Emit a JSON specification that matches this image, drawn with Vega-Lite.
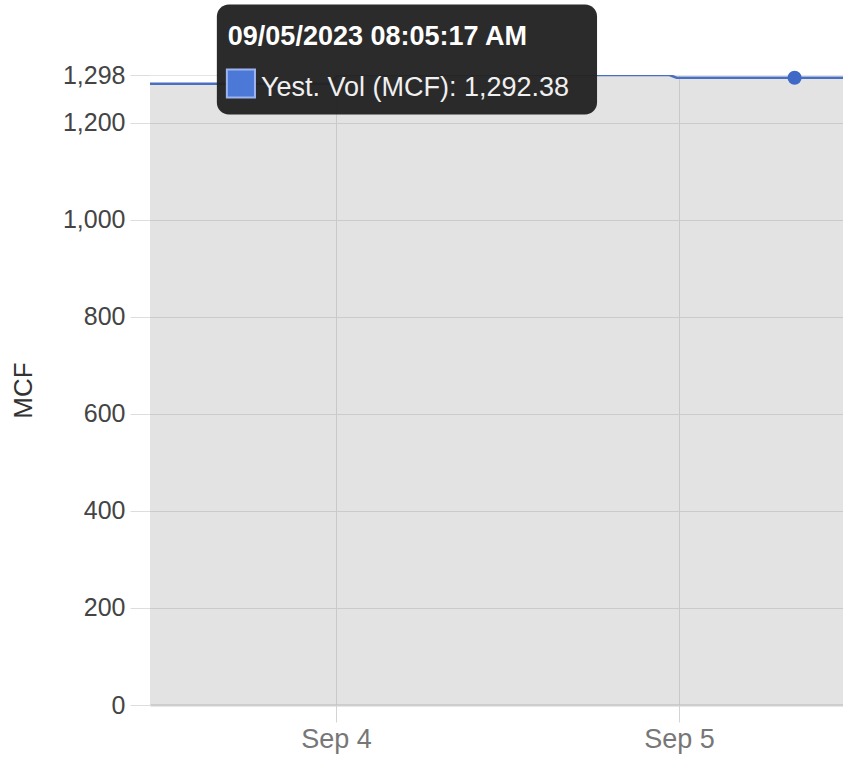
{
  "$schema": "https://vega.github.io/schema/vega-lite/v6.json",
  "width": 693,
  "height": 630,
  "autosize": {"type": "none"},
  "padding": {"left": 150, "top": 75, "right": 0, "bottom": 56},
  "background": "white",
  "config": {
    "view": {"stroke": null},
    "font": "Liberation Sans"
  },
  "datasets": {
    "series": [
      {"time": "2023-09-03T10:59:00", "value": 1280},
      {"time": "2023-09-03T23:30:00", "value": 1280},
      {"time": "2023-09-04T00:10:00", "value": 1298},
      {"time": "2023-09-04T23:20:00", "value": 1298},
      {"time": "2023-09-04T23:50:00", "value": 1292.38},
      {"time": "2023-09-05T08:05:17", "value": 1292.38},
      {"time": "2023-09-05T11:29:00", "value": 1292.38}
    ],
    "hover": [
      {"time": "2023-09-05T08:05:17", "value": 1292.38}
    ]
  },
  "layer": [
    {
      "data": {"name": "series"},
      "mark": {"type": "area", "color": "#000000", "opacity": 0.11, "clip": true},
      "encoding": {
        "x": {
          "field": "time",
          "type": "temporal",
          "scale": {
            "domain": [
              {"year": 2023, "month": 9, "date": 3, "hours": 10, "minutes": 59, "seconds": 20},
              {"year": 2023, "month": 9, "date": 5, "hours": 11, "minutes": 28, "seconds": 30}
            ]
          },
          "axis": {
            "title": null,
            "values": [
              {"year": 2023, "month": 9, "date": 4},
              {"year": 2023, "month": 9, "date": 5}
            ],
            "format": "%b %-d",
            "labelFontSize": 27,
            "labelColor": "#777777",
            "labelPadding": 4,
            "tickSize": 17,
            "tickColor": "#d4d4d4",
            "gridColor": "#e2e2e2",
            "domainColor": "#cfcfcf",
            "domainWidth": 2
          }
        },
        "y": {
          "field": "value",
          "type": "quantitative",
          "scale": {"domain": [0, 1298], "nice": false, "zero": true},
          "axis": {
            "title": "MCF",
            "titleFontSize": 26,
            "titleFontWeight": "normal",
            "titleColor": "#333333",
            "titlePadding": 26,
            "values": [0, 200, 400, 600, 800, 1000, 1200, 1298],
            "format": ",d",
            "labelFontSize": 25,
            "labelColor": "#444444",
            "labelPadding": 5,
            "tickSize": 20,
            "tickColor": "#dddddd",
            "gridColor": "#e4e4e4",
            "domain": false
          }
        }
      }
    },
    {
      "data": {"name": "series"},
      "mark": {"type": "line", "color": "#4a6fc2", "strokeWidth": 2.5, "clip": true},
      "encoding": {
        "x": {"field": "time", "type": "temporal"},
        "y": {"field": "value", "type": "quantitative"}
      }
    },
    {
      "data": {"name": "hover"},
      "mark": {"type": "point", "filled": true, "color": "#3f69c6", "size": 200, "opacity": 1},
      "encoding": {
        "x": {"field": "time", "type": "temporal"},
        "y": {"field": "value", "type": "quantitative"}
      }
    },
    {
      "data": {"values": [{}]},
      "mark": {"type": "rect", "color": "#222222", "cornerRadius": 12, "opacity": 0.96},
      "encoding": {
        "x": {"datum": {"year": 2023, "month": 9, "date": 3, "hours": 15, "minutes": 40}, "type": "temporal"},
        "x2": {"datum": {"year": 2023, "month": 9, "date": 4, "hours": 18, "minutes": 16}},
        "y": {"datum": 1443, "type": "quantitative"},
        "y2": {"datum": 1216.5}
      }
    },
    {
      "data": {"values": [{}]},
      "mark": {"type": "rect", "color": "#4c78d8", "stroke": "#9db5ee", "strokeWidth": 2},
      "encoding": {
        "x": {"datum": {"year": 2023, "month": 9, "date": 3, "hours": 16, "minutes": 22}, "type": "temporal"},
        "x2": {"datum": {"year": 2023, "month": 9, "date": 3, "hours": 18, "minutes": 20}},
        "y": {"datum": 1309.3, "type": "quantitative"},
        "y2": {"datum": 1251.5}
      }
    },
    {
      "data": {"values": [{}]},
      "mark": {"type": "text", "text": "09/05/2023 08:05:17 AM", "align": "left", "baseline": "alphabetic", "fontSize": 27, "fontWeight": "bold", "color": "#ffffff"},
      "encoding": {
        "x": {"datum": {"year": 2023, "month": 9, "date": 3, "hours": 16, "minutes": 26}, "type": "temporal"},
        "y": {"datum": 1360.8, "type": "quantitative"}
      }
    },
    {
      "data": {"values": [{}]},
      "mark": {"type": "text", "text": "Yest. Vol (MCF): 1,292.38", "align": "left", "baseline": "alphabetic", "fontSize": 27, "color": "#f0f0f0"},
      "encoding": {
        "x": {"datum": {"year": 2023, "month": 9, "date": 3, "hours": 18, "minutes": 45}, "type": "temporal"},
        "y": {"datum": 1255.7, "type": "quantitative"}
      }
    }
  ]
}
